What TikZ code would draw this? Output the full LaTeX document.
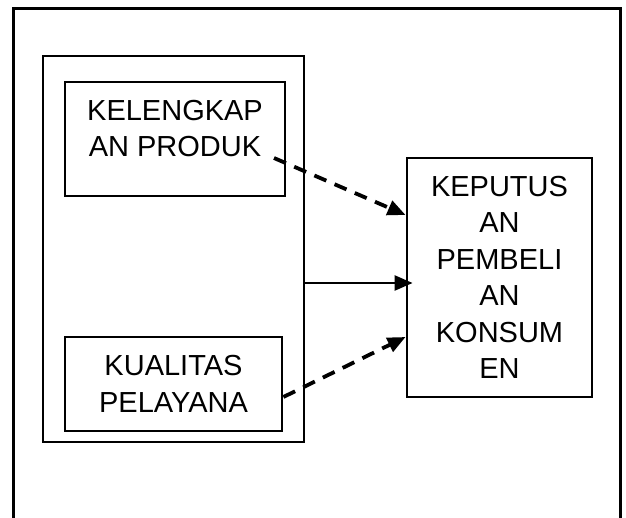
\documentclass[tikz,border=0pt]{standalone}
\usepackage{fontspec}
\setmainfont{Liberation Sans}
\usetikzlibrary{arrows.meta}

\tikzset{
  frame/.style={draw, line width=3pt},
  box/.style={draw, line width=2.8pt, inner sep=0pt},
  lbl/.style={align=center, font=\fontsize{29}{36.5}\selectfont, inner sep=0pt},
  dasharrow/.style={line width=3.8pt, dash pattern=on 13pt off 9pt, -{Triangle[length=18pt,width=15pt]}},
  solidarrow/.style={line width=2.4pt, -{Triangle[length=18pt,width=15pt]}}
}

\begin{document}
\begin{tikzpicture}[x=1pt,y=-1pt]
\useasboundingbox (0,0) rectangle (626,518);
% outer frame, open at the bottom
\draw[frame] (13,518) -- (13,9) -- (620,9) -- (620,518);
% group of the two variables
\node[box, minimum width=261, minimum height=386] (grp) at (173.5,249) {};
\node[box, minimum width=220, minimum height=114] (kel) at (175,139) {};
\node[lbl, anchor=base] (kelt) at (175,157) {KELENGKAP\\AN PRODUK};
\node[box, lbl, minimum width=217, minimum height=94] (kua) at (173.5,384) {KUALITAS\\PELAYANA};
% dependent variable
\node[box, lbl, minimum width=185, minimum height=239] (kep) at (499.5,277.5) {KEPUTUS\\AN\\PEMBELI\\AN\\KONSUM\\EN};
% arrows
\coordinate (kelout) at (274,158);
\coordinate (kuaout) at ([yshift=-13pt]kua.east);
\coordinate (kepin) at ([xshift=7pt, yshift=-5.5pt]kep.west);
\draw[dasharrow] (kelout) -- ([yshift=62.5pt]kep.west);
\draw[solidarrow] (grp.east |- kepin) -- (kepin);
\draw[dasharrow] (kuaout) -- ([yshift=-59.5pt]kep.west);
\end{tikzpicture}
\end{document}
